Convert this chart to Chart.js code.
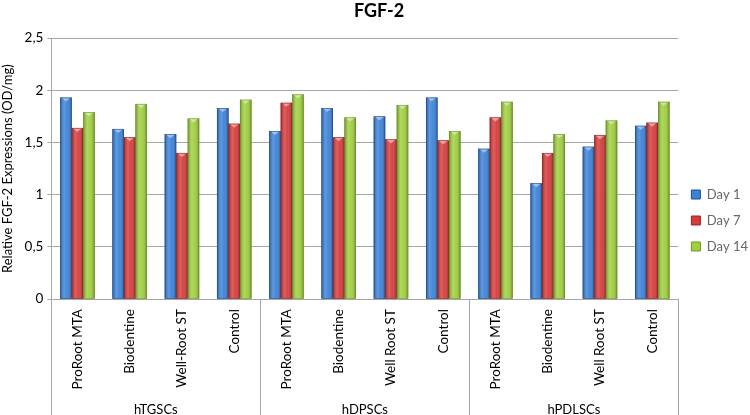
<!DOCTYPE html>
<html>
<head>
<meta charset="utf-8">
<script src="https://cdn.jsdelivr.net/npm/chart.js@4/dist/chart.umd.min.js"></script>
<style>
  html, body { margin: 0; padding: 0; background: #fff; }
  #wrap { width: 750px; height: 415px; }
</style>
</head>
<body>
<div id="wrap"><canvas id="chart"></canvas></div>
<script>
// FGF-2 expression chart, grouped by cell type

const materials = ['ProRoot MTA', 'Biodentine', 'Well-Root ST', 'Control',
                   'ProRoot MTA', 'Biodentine', 'Well Root ST', 'Control',
                   'ProRoot MTA', 'Biodentine', 'Well Root ST', 'Control'];
const cellGroups = ['hTGSCs', 'hDPSCs', 'hPDLSCs'];

const day1 = [1.93, 1.63, 1.58, 1.83, 1.61, 1.83, 1.75, 1.93, 1.44, 1.11, 1.46, 1.66];
const day7 = [1.64, 1.55, 1.40, 1.68, 1.88, 1.55, 1.53, 1.52, 1.74, 1.40, 1.57, 1.69];
const day14 = [1.79, 1.87, 1.73, 1.91, 1.96, 1.74, 1.86, 1.61, 1.89, 1.58, 1.71, 1.89];

const yTicks = [0, 0.5, 1, 1.5, 2, 2.5];

const FONT = 'Lato, "Open Sans", sans-serif';

// colours: [main, edge]
const seriesColors = [
    ['#3b82d8', '#1d4f92'],
    ['#d63b3b', '#9c2222'],
    ['#9fcf3e', '#6e9626']
];

// shading on the bars + separators under the category axis
const excelLook = {
    id: 'excelLook',
    afterDatasetsDraw(chart) {
        const ctx = chart.ctx;
        chart.data.datasets.forEach((ds, di) => {
            const meta = chart.getDatasetMeta(di);
            const edge = seriesColors[di][1];
            meta.data.forEach(bar => {
                const w = bar.width, l = bar.x - w / 2;
                const g = ctx.createLinearGradient(l, 0, l + w, 0);
                g.addColorStop(0, 'rgba(0,0,0,0.30)');
                g.addColorStop(0.35, 'rgba(255,255,255,0.18)');
                g.addColorStop(0.6, 'rgba(255,255,255,0.05)');
                g.addColorStop(1, 'rgba(0,0,0,0.35)');
                ctx.save();
                ctx.fillStyle = g;
                ctx.fillRect(l, bar.y, w, bar.base - bar.y);
                // bevel cap
                ctx.fillStyle = 'rgba(255,255,255,0.45)';
                ctx.beginPath();
                ctx.moveTo(l + 1, bar.y);
                ctx.lineTo(l + w - 1, bar.y);
                ctx.lineTo(bar.x, bar.y + 4);
                ctx.closePath();
                ctx.fill();
                ctx.strokeStyle = edge;
                ctx.lineWidth = 0.6;
                ctx.strokeRect(l + 0.3, bar.y + 0.3, w - 0.6, bar.base - bar.y - 0.3);
                ctx.restore();
            });
        });
    },
    afterDraw(chart) {
        const x2 = chart.scales.x2;
        const ctx = chart.ctx;
        const step = x2.width / cellGroups.length;
        ctx.save();
        ctx.strokeStyle = '#a6a6a6';
        ctx.lineWidth = 1;
        for (let i = 0; i <= cellGroups.length; i++) {
            const px = Math.round(x2.left + i * step) + 0.5;
            ctx.beginPath();
            ctx.moveTo(px, chart.chartArea.bottom);
            ctx.lineTo(px, chart.height);
            ctx.stroke();
        }
        ctx.restore();
    }
};

const makeSet = (label, data, i) => ({
    label: label,
    data: data,
    backgroundColor: seriesColors[i][0],
    borderColor: seriesColors[i][1],
    borderWidth: 0,
    barPercentage: 1.0,
    categoryPercentage: 0.66,
    xAxisID: 'x'
});

new Chart(document.getElementById('chart'), {
    type: 'bar',
    data: {
        labels: materials,
        datasets: [
            makeSet('Day 1', day1, 0),
            makeSet('Day 7', day7, 1),
            makeSet('Day 14', day14, 2)
        ]
    },
    options: {
        responsive: true,
        maintainAspectRatio: false,
        animation: false,
        layout: { padding: { left: 0, right: -8, top: 0, bottom: -6 } },
        plugins: {
            title: {
                display: true,
                text: 'FGF-2',
                color: '#000',
                font: { family: FONT, size: 18, weight: 'bold' },
                padding: { top: 0, bottom: 16.5 }
            },
            legend: {
                position: 'right',
                title: {
                    display: true,
                    text: ' ',
                    font: { size: 10 },
                    padding: { top: 4, bottom: 4 }
                },
                labels: {
                    color: '#000',
                    font: { family: FONT, size: 13 },
                    boxWidth: 9,
                    boxHeight: 9,
                    padding: 13,
                    generateLabels(chart) {
                        return chart.data.datasets.map((ds, i) => ({
                            text: ds.label,
                            fillStyle: seriesColors[i][0],
                            strokeStyle: seriesColors[i][1],
                            lineWidth: 1,
                            datasetIndex: i
                        }));
                    }
                }
            },
            tooltip: { enabled: false }
        },
        scales: {
            x: {
                type: 'category',
                position: 'bottom',
                grid: { display: false, drawTicks: false },
                border: { display: true, color: '#a6a6a6' },
                ticks: {
                    color: '#000',
                    font: { family: FONT, size: 13.5 },
                    minRotation: 90,
                    maxRotation: 90,
                    padding: 10
                }
            },
            x2: {
                type: 'category',
                position: 'bottom',
                labels: cellGroups,
                offset: true,
                grid: { display: false, drawTicks: false },
                border: { display: false },
                ticks: {
                    color: '#000',
                    font: { family: FONT, size: 13 },
                    maxRotation: 0,
                    padding: 3
                }
            },
            y: {
                min: 0,
                max: 2.5,
                afterBuildTicks(scale) {
                    scale.ticks = yTicks.map(v => ({ value: v }));
                },
                grid: { color: '#a6a6a6', tickLength: 4 },
                border: { color: '#a6a6a6' },
                ticks: {
                    color: '#000',
                    font: { family: FONT, size: 13.5 },
                    padding: 4,
                    callback: v => String(v).replace('.', ',')
                },
                title: {
                    display: true,
                    text: 'Relative FGF-2 Expressions (OD/mg)',
                    color: '#000',
                    font: { family: FONT, size: 13 },
                    padding: { top: 0, bottom: 5 }
                }
            }
        }
    },
    plugins: [excelLook]
});
</script>
</body>
</html>
